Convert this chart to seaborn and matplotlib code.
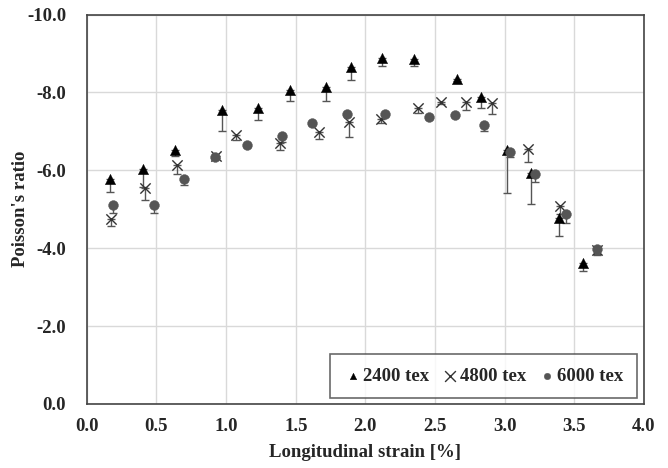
import matplotlib
matplotlib.use("Agg")
import matplotlib.pyplot as plt
import seaborn as sns
import pandas as pd
import numpy as np

# ---- data ----
x_2400 = [0.165, 0.40, 0.63, 0.97, 1.23, 1.46, 1.72, 1.90, 2.12, 2.35, 2.66, 2.83, 3.02, 3.19, 3.39, 3.56]
y_2400 = [-5.77, -6.03, -6.52, -7.55, -7.59, -8.05, -8.15, -8.66, -8.89, -8.85, -8.35, -7.89, -6.52, -5.92, -4.77, -3.63]
e_2400 = [0.33, 0.45, 0.15, 0.53, 0.30, 0.28, 0.37, 0.34, 0.21, 0.17, 0.05, 0.28, 1.11, 0.79, 0.46, 0.22]

x_4800 = [0.17, 0.42, 0.65, 0.93, 1.07, 1.39, 1.67, 1.88, 2.11, 2.38, 2.54, 2.72, 2.91, 3.17, 3.40, 3.66]
y_4800 = [-4.74, -5.54, -6.14, -6.37, -6.91, -6.69, -6.97, -7.25, -7.31, -7.59, -7.76, -7.75, -7.72, -6.54, -5.08, -3.95]
e_4800 = [0.16, 0.30, 0.24, 0.05, 0.13, 0.17, 0.17, 0.40, 0.09, 0.11, 0.05, 0.20, 0.27, 0.34, 0.20, 0.10]

x_6000 = [0.19, 0.48, 0.70, 0.92, 1.15, 1.40, 1.62, 1.87, 2.14, 2.46, 2.64, 2.85, 3.04, 3.22, 3.44, 3.66]
y_6000 = [-5.11, -5.11, -5.77, -6.35, -6.65, -6.88, -7.22, -7.44, -7.44, -7.36, -7.42, -7.16, -6.48, -5.90, -4.87, -3.97]
e_6000 = [0.22, 0.22, 0.15, 0.05, 0.05, 0.15, 0.05, 0.05, 0.05, 0.05, 0.05, 0.14, 0.13, 0.19, 0.23, 0.14]

labels = ["2400 tex", "4800 tex", "6000 tex"]
x_ticks = [0.0, 0.5, 1.0, 1.5, 2.0, 2.5, 3.0, 3.5, 4.0]
y_ticks = [0.0, -2.0, -4.0, -6.0, -8.0, -10.0]

sns.set_theme(style="white")
plt.rcParams['font.family'] = ['Liberation Serif', 'DejaVu Serif']
plt.rcParams['font.weight'] = 'bold'

FS = 13.5

fig = plt.figure(figsize=(6.68, 4.68), dpi=100)
ax = fig.add_axes([0.130, 0.137, 0.834, 0.832])

series = [
    (x_2400, y_2400, e_2400, labels[0], "^", "#000000", 55),
    (x_4800, y_4800, e_4800, labels[1], "x", "#333333", 55),
    (x_6000, y_6000, e_6000, labels[2], "o", "#555555", 50),
]

for xs, ys, es, lab, mk, col, sz in series:
    df = pd.DataFrame({"x": xs, "y": ys, "e": es})
    ax.errorbar(df["x"], df["y"], yerr=[np.zeros(len(df)), df["e"]], fmt="none",
                ecolor="#555555", elinewidth=1.0, capsize=3, capthick=1.0, zorder=2)
    kw = dict(edgecolor=col) if mk != "x" else dict()
    sns.scatterplot(data=df, x="x", y="y", marker=mk, color=col, s=sz, ax=ax,
                    label=lab, zorder=3, linewidth=1.0 if mk == "x" else 0.3, **kw)

ax.set_xlim(0, 4)
ax.set_ylim(0, -10)
ax.set_xticks(x_ticks)
ax.set_yticks(y_ticks)
ax.set_xticklabels([f"{t:.1f}" for t in x_ticks], fontsize=FS, fontweight="bold")
ax.set_yticklabels([f"{t:.1f}" for t in y_ticks], fontsize=FS, fontweight="bold")
ax.grid(True, color="#d9d9d9", linewidth=1.0)
ax.set_axisbelow(True)
for s in ax.spines.values():
    s.set_color("#444444")
    s.set_linewidth(1.2)
ax.tick_params(axis="x", direction="out", length=5, width=1, color="#444444", pad=5)
ax.tick_params(axis="y", direction="out", length=6, width=1, color="#444444", pad=9)

ax.set_xlabel("Longitudinal strain [%]", fontsize=FS, fontweight="bold")
ax.set_ylabel("Poisson's ratio", fontsize=FS, fontweight="bold")
ax.xaxis.set_label_coords(0.5, -0.103)
ax.yaxis.set_label_coords(-0.103, 0.5)

leg = ax.legend(loc="lower right", ncol=3, frameon=True, fancybox=False,
                prop={"family": "Liberation Serif", "weight": "bold", "size": FS},
                handletextpad=0.05, columnspacing=0.6, borderpad=0.7,
                handlelength=1.0, borderaxespad=0, bbox_to_anchor=(0.987, 0.016))
leg.get_frame().set_edgecolor("#444444")
leg.get_frame().set_linewidth(1.2)
for h, sz in zip(leg.legend_handles, [22, 60, 22]):
    h.set_sizes([sz])

fig.savefig("out.png", dpi=100)
